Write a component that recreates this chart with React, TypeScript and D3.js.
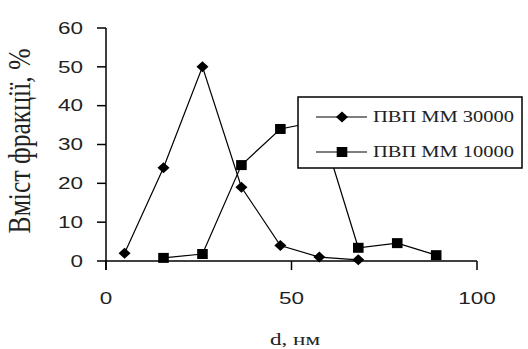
import * as d3 from 'd3';

// d, нм
const sizes30000 = [5, 15.5, 26, 36.5, 47, 57.5, 68];
const content30000 = [2, 24, 50, 19, 4, 1, 0.3];
const sizes10000 = [15.5, 26, 36.5, 47, 57.5, 68, 78.5, 89];
const content10000 = [0.8, 1.8, 24.7, 34, 36, 3.4, 4.6, 1.5];

const yTicks = [0, 10, 20, 30, 40, 50, 60];
const xTicks = [0, 50, 100];
const seriesNames = ['ПВП ММ 30000', 'ПВП ММ 10000'];

const W = 528;
const H = 349;

export default function App() {
    const x = d3.scaleLinear().domain([0, 100]).range([106, 477]);
    const y = d3.scaleLinear().domain([0, 60]).range([261, 28]);

    const line = d3.line<[number, number]>()
        .x(d => x(d[0]))
        .y(d => y(d[1]));

    const pts30000: [number, number][] = sizes30000.map((d, i) => [d, content30000[i]]);
    const pts10000: [number, number][] = sizes10000.map((d, i) => [d, content10000[i]]);

    // marker shapes (slightly wider than tall, like the source)
    const diamond = (cx: number, cy: number) =>
        `M${cx},${cy - 5.5}L${cx + 6},${cy}L${cx},${cy + 5.5}L${cx - 6},${cy}Z`;
    const square = (cx: number, cy: number) =>
        `M${cx - 5.3},${cy - 5}h10.6v10h-10.6Z`;

    const serif = '"Liberation Serif", "Times New Roman", serif';
    const sans = '"Liberation Sans", Arial, sans-serif';

    return (
        <svg width={W} height={H} style={{ position: 'absolute', left: 0, top: 0, background: '#fff' }}>
            <rect x={0} y={0} width={W} height={H} fill="#fff" />

            {/* y axis */}
            <line x1={x(0)} x2={x(0)} y1={y(60)} y2={270} stroke="#000" strokeWidth={1.5} />
            {yTicks.map(t => (
                <g key={'y' + t}>
                    <line x1={x(0) - 9} x2={x(0)} y1={y(t)} y2={y(t)} stroke="#000" strokeWidth={1.5} />
                    <text x={83} y={y(t)} dy="0.36em" textAnchor="end" fontFamily={sans} fontSize={16}
                        fill="#222" textLength={String(t).length * 12.5} lengthAdjust="spacingAndGlyphs">
                        {t}
                    </text>
                </g>
            ))}

            {/* x axis */}
            <line x1={x(0)} x2={x(100)} y1={y(0)} y2={y(0)} stroke="#000" strokeWidth={1.5} />
            {xTicks.map(t => (
                <g key={'x' + t}>
                    <line x1={x(t)} x2={x(t)} y1={y(0)} y2={270} stroke="#000" strokeWidth={1.5} />
                    <text x={x(t)} y={298} dy="0.36em" textAnchor="middle" fontFamily={sans} fontSize={16}
                        fill="#222" textLength={String(t).length * 12.5} lengthAdjust="spacingAndGlyphs">
                        {t}
                    </text>
                </g>
            ))}

            {/* axis titles */}
            <text x={295} y={345} textAnchor="middle" fontFamily={serif} fontSize={16} fill="#222"
                textLength={50} lengthAdjust="spacingAndGlyphs">
                d, нм
            </text>
            <g transform="translate(30,141) scale(1.4,1) rotate(-90)">
                <text x={0} y={0} textAnchor="middle" fontFamily={serif} fontSize={23} fill="#222"
                    textLength={185} lengthAdjust="spacingAndGlyphs">
                    Вміст фракції, %
                </text>
            </g>

            {/* series */}
            <path d={line(pts30000) || ''} fill="none" stroke="#000" strokeWidth={1.2} />
            <path d={line(pts10000) || ''} fill="none" stroke="#000" strokeWidth={1.2} />
            {pts30000.map((p, i) => (
                <path key={'a' + i} d={diamond(x(p[0]), y(p[1]))} fill="#000" />
            ))}
            {pts10000.map((p, i) => (
                <path key={'b' + i} d={square(x(p[0]), y(p[1]))} fill="#000" />
            ))}

            {/* legend */}
            <rect x={298} y={97} width={224} height={71} fill="#fff" stroke="#000" strokeWidth={1.5} />
            {seriesNames.map((name, i) => {
                const ly = 117 + i * 35;
                return (
                    <g key={name}>
                        <line x1={316} x2={367} y1={ly} y2={ly} stroke="#000" strokeWidth={1.2} />
                        <path d={i === 0 ? diamond(342, ly) : square(342, ly)} fill="#000" />
                        <text x={373} y={ly} dy="0.33em" fontFamily={serif} fontSize={16} fill="#222"
                            textLength={141} lengthAdjust="spacingAndGlyphs">
                            {name}
                        </text>
                    </g>
                );
            })}
        </svg>
    );
}
